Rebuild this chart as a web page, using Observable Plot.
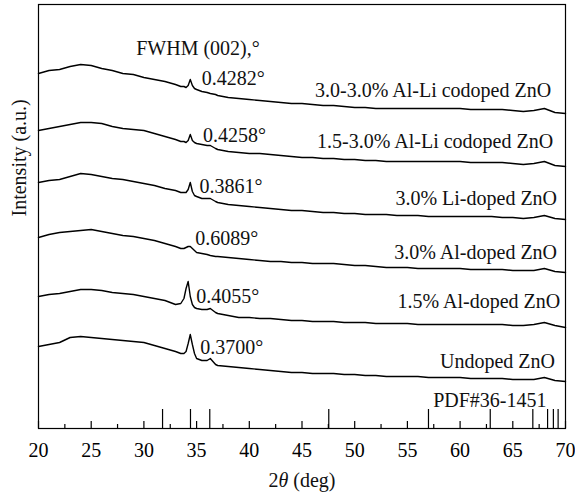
<!DOCTYPE html>
<html><head><meta charset="utf-8">
<script src="https://cdn.jsdelivr.net/npm/d3@7"></script>
<script src="https://cdn.jsdelivr.net/npm/@observablehq/plot@0.6"></script>
<style>body{margin:0;background:#fff} svg{display:block}</style>
</head><body><div id="chart"></div>
<script>
// 2θ grid (deg) shared by all patterns
const thetas = [20,21,22,23,24,25,26,27,28,29,30,31,32,33,
  33.5,33.8,34.0,34.2,34.4,34.6,34.8,35.0,35.5,36.0,36.3,36.8,
  37,38,39,40,41,42,43,44,45,46,47,48,49,50,51,52,53,54,55,56,57,58,59,60,61,62,63,64,65,66,67,68,69,70];

const samples = ["Undoped ZnO","1.5% Al-doped ZnO","3.0% Al-doped ZnO","3.0% Li-doped ZnO","1.5-3.0% Al-Li codoped ZnO","3.0-3.0% Al-Li codoped ZnO"];

// intensities (a.u., stacked offsets as drawn)
const undoped = [82,84,86,91,92,91,90,89,88,87,86,83,80,77,
  75,75,77,85,94,84,75,70,68,68,70,64,
  63,62,61,60,59,58,57,56,56,55,55,55,54,54,53,53,52,52,52,52,51,51,51,51,50,50,50,50,49,49,49,51,48,47];
const al15 = [132,134,135,137,139,139,138,136,135,134,132,130,128,124,
  125,130,140,147,132,124,121,120,119,119,120,116,
  115,113,111,111,110,110,109,108,108,107,107,107,106,106,106,105,105,105,105,104,104,104,104,104,104,104,104,104,103,103,104,106,103,101];
const al30 = [191,194,196,197,198,199,197,195,193,192,190,188,185,182,
  180,180,181,182,182,180,178,176,175,174,173,172,
  172,171,170,169,168,167,167,166,166,165,165,165,164,163,163,162,161,161,161,160,160,160,160,160,159,159,159,159,158,158,158,160,157,156];
const li30 = [246,248,249,252,255,254,252,250,249,247,245,243,240,238,
  236,236,236,239,246,237,233,232,230,230,230,227,
  226,224,223,222,221,220,219,218,218,217,216,216,215,215,214,214,214,213,213,213,212,212,212,212,212,212,212,211,211,210,211,213,210,209];
const alli1530 = [298,300,302,304,306,306,305,302,300,299,298,295,292,289,
  287,287,286,288,294,288,286,285,284,283,283,280,
  279,277,276,275,275,274,273,272,271,271,270,270,269,269,268,268,267,267,267,267,267,267,267,267,266,266,266,266,265,264,265,267,263,262];
const alli3030 = [355,358,359,362,364,363,360,358,355,354,351,349,347,344,
  342,342,341,343,349,343,340,339,337,336,335,334,
  333,331,330,329,328,327,326,325,325,324,323,323,322,321,321,320,320,320,320,320,320,320,320,320,319,319,319,319,318,317,318,320,316,315];

const fwhm = ["0.3700°","0.4055°","0.6089°","0.3861°","0.4258°","0.4282°"];
const fwhmTitle = "FWHM (002),°";
const pdfPeaks = [31.77,34.42,36.25,47.54,57.0,62.86,66.9,68.3,68.85,69.3];
const pdfLabel = "PDF#36-1451";
const majorTicks = [20,25,30,35,40,45,50,55,60,65,70];
const minorTicks = [22.5,27.5,32.5,37.5,42.5,47.5,52.5,57.5,62.5,67.5];
const xLabel = "2θ (deg)";
const yLabel = "Intensity (a.u.)";

// annotation anchors (layout)
const nameX = [69.0,69.5,69.2,69.2,68.83,68.64];
const nameY = [66.5,126.5,176.3,229.5,286.5,337.8];
const fwhmX = [35.34,34.96,34.87,35.27,35.6,35.5];
const fwhmY = [80.5,132,189.7,242,293,349.7];

const series = [undoped, al15, al30, li30, alli1530, alli3030];
const rows = [];
series.forEach((vals, i) => vals.forEach((v, j) => rows.push({sample: samples[i], theta: thetas[j], intensity: v})));

const chart = Plot.plot({
  width: 575, height: 496,
  marginLeft: 38, marginRight: 10, marginTop: 4, marginBottom: 68,
  x: {domain: [20, 70]},
  y: {domain: [0, 424], axis: null},
  style: {fontFamily: "'Liberation Serif', serif", fontSize: "20px", color: "#000", background: "#fff"},
  marks: [
    Plot.ruleX(pdfPeaks, {y1: 0, y2: 19, stroke: "#000", strokeWidth: 1.2}),
    Plot.ruleX(majorTicks, {y1: 0, y2: 7, stroke: "#000", strokeWidth: 1.2}),
    Plot.ruleX(minorTicks, {y1: 0, y2: 4, stroke: "#000", strokeWidth: 1.2}),
    Plot.axisX(majorTicks, {tickSize: 0, tickPadding: 14, label: null, fontSize: 20}),
    Plot.frame({stroke: "#000", strokeWidth: 1.2}),
    Plot.line(rows, {x: "theta", y: "intensity", z: "sample", stroke: "#000", strokeWidth: 1.4}),
    Plot.text(samples, {x: nameX, y: nameY, text: d => d, textAnchor: "end", lineAnchor: "middle", fill: "#111"}),
    Plot.text(fwhm, {x: fwhmX, y: fwhmY, text: d => d, textAnchor: "start", lineAnchor: "middle", fill: "#111"}),
    Plot.text([fwhmTitle], {x: [29.27], y: [379.7], text: d => d, textAnchor: "start", lineAnchor: "middle", fill: "#111"}),
    Plot.text([pdfLabel], {x: [68.2], y: [28], text: d => d, textAnchor: "end", lineAnchor: "middle", fill: "#111"}),
    Plot.text([xLabel], {frameAnchor: "bottom", dy: 52, text: d => d, lineAnchor: "middle", fill: "#111"}),
    Plot.text([yLabel], {frameAnchor: "left", dx: -19, rotate: -90, text: d => d, lineAnchor: "middle", fill: "#111"})
  ]
});

// italic θ in the x label
chart.querySelectorAll("text").forEach(t => {
  if (t.textContent === xLabel) {
    const ns = "http://www.w3.org/2000/svg";
    t.textContent = "";
    const a = document.createElementNS(ns, "tspan"); a.textContent = "2";
    const b = document.createElementNS(ns, "tspan"); b.textContent = "θ"; b.setAttribute("font-style", "italic");
    const c = document.createElementNS(ns, "tspan"); c.textContent = " (deg)";
    t.append(a, b, c);
  }
});
document.getElementById("chart").append(chart);
</script>
</body></html>
